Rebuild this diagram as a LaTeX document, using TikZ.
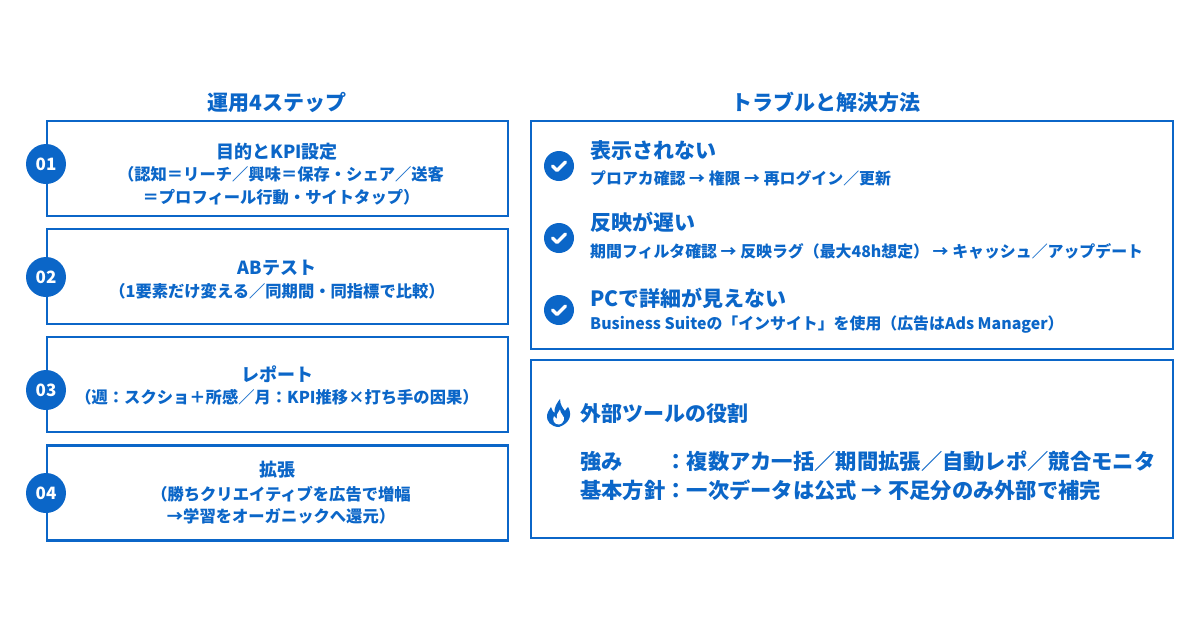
\documentclass[tikz,border=0pt]{standalone}
\usepackage{fontspec}
\setmainfont{Noto Sans CJK JP}
\usetikzlibrary{positioning}
\definecolor{opsblue}{HTML}{0B66C8}
\tikzset{
  panel/.style={draw=opsblue, line width=2.6, fill=white, inner sep=0pt},
  numdot/.style={circle, fill=opsblue, minimum size=40, inner sep=0pt,
    text=white, font=\fontsize{17}{17}\selectfont\bfseries},
  headtxt/.style={text=opsblue, font=\fontsize{21}{24}\selectfont\bfseries},
  steptitle/.style={text=opsblue, font=\fontsize{18}{22}\selectfont\bfseries},
  stepnote/.style={text=opsblue, align=center, font=\fontsize{16.3}{22.5}\selectfont\bfseries},
  issuetitle/.style={text=opsblue, anchor=west, inner sep=0pt, font=\fontsize{21}{24}\selectfont\bfseries},
  issuenote/.style={text=opsblue, anchor=west, inner sep=0pt, font=\fontsize{15.9}{18}\selectfont\bfseries},
  checkdot/.style={circle, fill=opsblue, minimum size=30, inner sep=0pt},
  tooltxt/.style={text=opsblue, anchor=west, inner sep=0pt, font=\fontsize{21.3}{29}\selectfont\bfseries}
}
\begin{document}
\begin{tikzpicture}[x=1pt,y=-1pt]
\useasboundingbox (0,0) rectangle (1200,630);

% section headings
\node[headtxt] (hsteps) at (277,102) {運用4ステップ};
\node[headtxt] (htrouble) at (826,102) {トラブルと解決方法};

% four steps
\node[panel, minimum width=461, minimum height=95] (s1) at (277.5,168.5) {};
\node[panel, minimum width=461, minimum height=95] (s2) at (277.5,276.5) {};
\node[panel, minimum width=461, minimum height=95] (s3) at (277.5,384.5) {};
\node[panel, minimum width=461, minimum height=95] (s4) at (277.5,493) {};

\node[numdot] (d1) at (46,164) {01};
\node[numdot] (d2) at (46,277) {02};
\node[numdot] (d3) at (46,390) {03};
\node[numdot] (d4) at (46,493) {04};

\node[steptitle] (t1) at (277,152) {目的とKPI設定};
\node[stepnote] (n1) at (281,186) {（認知＝リーチ／興味＝保存・シェア／送客\\＝プロフィール行動・サイトタップ）};
\node[steptitle] (t2) at (277,268) {ABテスト};
\node[stepnote] (n2) at (277,291) {（1要素だけ変える／同期間・同指標で比較）};
\node[steptitle] (t3) at (277,374) {レポート};
\node[stepnote] (n3) at (277,397) {（週：スクショ＋所感／月：KPI推移×打ち手の因果）};
\node[steptitle] (t4) at (277,470) {拡張};
\node[stepnote] (n4) at (281,505) {（勝ちクリエイティブを広告で増幅\\→学習をオーガニックへ還元）};

% troubles
\node[panel, minimum width=642, minimum height=228] (trouble) at (852,235) {};

\node[checkdot] (c1) at (559,166) {};
\node[checkdot] (c2) at (559,238) {};
\node[checkdot] (c3) at (559,310) {};
\foreach \c in {c1,c2,c3}
  \draw[white, line width=3.4, line cap=round, line join=round]
    (\c.center) ++(-6.5,0) -- ++(4.5,4.5) -- ++(8.5,-8.5);

\node[issuetitle] (i1) at (590,151) {表示されない};
\node[issuenote] (m1) at (590,178) {プロアカ確認 → 権限 → 再ログイン／更新};
\node[issuetitle] (i2) at (590,222) {反映が遅い};
\node[issuenote] (m2) at (590,251) {期間フィルタ確認 → 反映ラグ（最大48h想定） → キャッシュ／アップデート};
\node[issuetitle] (i3) at (590,298) {PCで詳細が見えない};
\node[issuenote] (m3) at (590,325) {Business Suiteの「インサイト」を使用（広告はAds Manager）};

% external tools
\node[panel, minimum width=642, minimum height=178] (tools) at (852,449) {};

% flame icon
\begin{scope}[shift={(559,414)}]
\fill[opsblue] (0,13) .. controls (-8,13) and (-13,7) .. (-12,1)
  .. controls (-11,-3) and (-9,-5) .. (-8,-7)
  .. controls (-7,-4) and (-6,-2) .. (-4.5,-1)
  .. controls (-5,-7) and (-2,-11) .. (1,-15)
  .. controls (1,-9) and (4,-6) .. (6,-3)
  .. controls (7,-5) and (8,-6) .. (9,-7)
  .. controls (13,-1) and (12,9) .. (0,13) -- cycle;
\fill[white] (0,10.5) .. controls (-5,10.5) and (-7,6) .. (-5,2)
  .. controls (-4,4) .. (-2,5)
  .. controls (-3,1) and (-1,-2) .. (1,-4.5)
  .. controls (1,0) and (6,2) .. (5,6)
  .. controls (4,9) and (2,10.5) .. (0,10.5) -- cycle;
\end{scope}

\node[issuetitle] (x0) at (580,414) {外部ツールの役割};
\node[tooltxt] (x1) at (580,461) {\makebox[4em][l]{強み}：複数アカ一括／期間拡張／自動レポ／競合モニタ};
\node[tooltxt] (x2) at (580,490) {\makebox[4em][l]{基本方針}：一次データは公式 → 不足分のみ外部で補完};
\end{tikzpicture}
\end{document}
